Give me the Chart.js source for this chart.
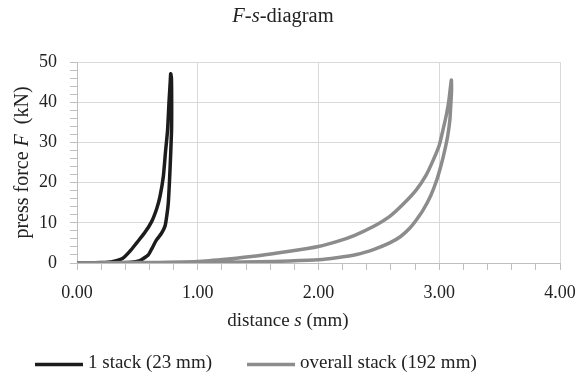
<!DOCTYPE html>
<html>
<head>
<meta charset="utf-8">
<script src="https://cdn.jsdelivr.net/npm/chart.js@4"></script>
<style>
  html, body { margin: 0; padding: 0; background: #fff; }
  #wrap { width: 579px; height: 383px; }
</style>
</head>
<body>
<div id="wrap"><canvas id="fs"></canvas></div>
<script>
// 1 stack (23 mm): loading branch then unloading branch
const oneStackS = [0, 0.2, 0.3, 0.38, 0.44, 0.494, 0.56, 0.618, 0.66, 0.687, 0.715, 0.734, 0.75, 0.762, 0.772, 0.776,
                   0.782, 0.784, 0.783, 0.77, 0.756, 0.74, 0.728, 0.7, 0.66, 0.62, 0.59, 0.55, 0.52, 0.45, 0.3, 0];
const oneStackF = [0, 0.1, 0.4, 1.2, 3, 5, 7.5, 10.3, 13.5, 16.5, 21.5, 28, 33, 40, 45, 47.1,
                   46, 40, 33, 23, 14.9, 11, 9.1, 7.4, 5.8, 3.6, 2, 1.1, 0.6, 0.2, 0.05, 0];

// overall stack (192 mm)
const overallS = [0, 0.5, 1.0, 1.25, 1.5, 1.76, 2.0, 2.15, 2.3, 2.45, 2.59, 2.7, 2.81, 2.89, 2.95, 3.0, 3.03, 3.06, 3.08, 3.1,
                  3.102, 3.095, 3.088, 3.07, 3.046, 3.015, 2.98, 2.93, 2.867, 2.81, 2.757, 2.68, 2.59, 2.46, 2.315, 2.15, 2.0, 1.76, 1.5, 1.0, 0.5, 0];
const overallF = [0, 0.1, 0.4, 1.0, 1.8, 2.9, 4.1, 5.3, 6.9, 9.0, 11.6, 14.6, 18.2, 21.8, 25.6, 29.3, 33, 37, 40.5, 45.5,
                  43, 39, 35.6, 31.6, 28.1, 24.3, 20.7, 16.8, 13.2, 10.7, 8.7, 6.6, 5, 3.4, 2.1, 1.3, 0.8, 0.5, 0.3, 0.1, 0, 0];

const seriesNames = ["1 stack (23 mm)", "overall stack (192 mm)"];
const seriesColors = ["#1c1c1c", "#8c8c8c"];

const xMin = 0, xMax = 4, xStep = 0.2;
const yMin = 0, yMax = 50, yStep = 2;

const toPoints = (xs, ys) => xs.map((x, i) => ({x: x, y: ys[i]}));

const SERIF = "'Liberation Serif', 'Times New Roman', serif";

// draw a run of text pieces (some italic) centred on cx
function drawRich(ctx, parts, cx, cy, size) {
  let total = 0;
  parts.forEach(p => {
    ctx.font = (p[1] ? "italic " : "") + size + "px " + SERIF;
    total += ctx.measureText(p[0]).width;
  });
  let x = cx - total / 2;
  parts.forEach(p => {
    ctx.font = (p[1] ? "italic " : "") + size + "px " + SERIF;
    ctx.fillText(p[0], x, cy);
    x += ctx.measureText(p[0]).width;
  });
}

const textPlugin = {
  id: "texts",
  afterDraw(chart) {
    const ctx = chart.ctx;
    const area = chart.chartArea;
    ctx.save();
    ctx.fillStyle = "#222";
    ctx.textAlign = "left";
    ctx.textBaseline = "middle";
    drawRich(ctx, [["F", true], ["-", false], ["s", true], ["-diagram", false]], 283, 17, 20.5);
    drawRich(ctx, [["distance ", false], ["s", true], [" (mm)", false]], 288, 321, 19);

    ctx.save();
    ctx.translate(23, (area.top + area.bottom) / 2);
    ctx.rotate(-Math.PI / 2);
    drawRich(ctx, [["press force ", false], ["F", true], ["  (kN)", false]], 0, 0, 20);
    ctx.restore();

    // legend
    const items = [[35, 88], [247, 300]];
    items.forEach((it, i) => {
      ctx.strokeStyle = seriesColors[i];
      ctx.lineWidth = 3.5;
      ctx.beginPath();
      ctx.moveTo(it[0], 364.5);
      ctx.lineTo(it[0] + 48, 364.5);
      ctx.stroke();
      ctx.font = "19px " + SERIF;
      ctx.fillText(seriesNames[i], it[1], 363);
    });
    ctx.restore();
  }
};

const isMajor = (v, every) => Math.abs(v / every - Math.round(v / every)) < 1e-6;

new Chart("fs", {
  type: "scatter",
  data: {
    datasets: [{
      label: seriesNames[0],
      data: toPoints(oneStackS, oneStackF),
      showLine: true,
      tension: 0.2,
      borderColor: seriesColors[0],
      backgroundColor: seriesColors[0],
      borderWidth: 3.5,
      pointRadius: 0,
      order: 1
    }, {
      label: seriesNames[1],
      data: toPoints(overallS, overallF),
      showLine: true,
      tension: 0.2,
      borderColor: seriesColors[1],
      backgroundColor: seriesColors[1],
      borderWidth: 3.5,
      pointRadius: 0,
      order: 0
    }]
  },
  options: {
    responsive: true,
    maintainAspectRatio: false,
    animation: false,
    layout: {padding: {left: 0, right: 19, top: 62, bottom: 0}},
    plugins: {
      legend: {display: false},
      tooltip: {enabled: false}
    },
    scales: {
      x: {
        type: "linear",
        min: xMin, max: xMax,
        afterFit: s => { s.height = 120; s.paddingLeft = 0; s.paddingRight = 0; },
        border: {color: "#bfbfbf", width: 1},
        grid: {
          color: c => isMajor(c.tick.value, 1) ? "#d9d9d9" : "rgba(0,0,0,0)",
          tickColor: "#bfbfbf",
          tickLength: 7
        },
        ticks: {
          stepSize: xStep,
          autoSkip: false,
          maxRotation: 0,
          padding: 12,
          color: "#222",
          font: {family: SERIF, size: 18},
          callback: v => isMajor(v, 1) ? v.toFixed(2) : ""
        }
      },
      y: {
        min: yMin, max: yMax,
        afterFit: s => { s.width = 77; s.paddingTop = 0; s.paddingBottom = 0; },
        border: {color: "#bfbfbf", width: 1},
        grid: {
          color: c => isMajor(c.tick.value, 10) ? "#d9d9d9" : "rgba(0,0,0,0)",
          tickColor: "#bfbfbf",
          tickLength: 7
        },
        ticks: {
          stepSize: yStep,
          autoSkip: false,
          padding: 13,
          color: "#222",
          font: {family: SERIF, size: 18},
          callback: v => isMajor(v, 10) ? String(Math.round(v)) : ""
        }
      }
    }
  },
  plugins: [textPlugin]
});
</script>
</body>
</html>
